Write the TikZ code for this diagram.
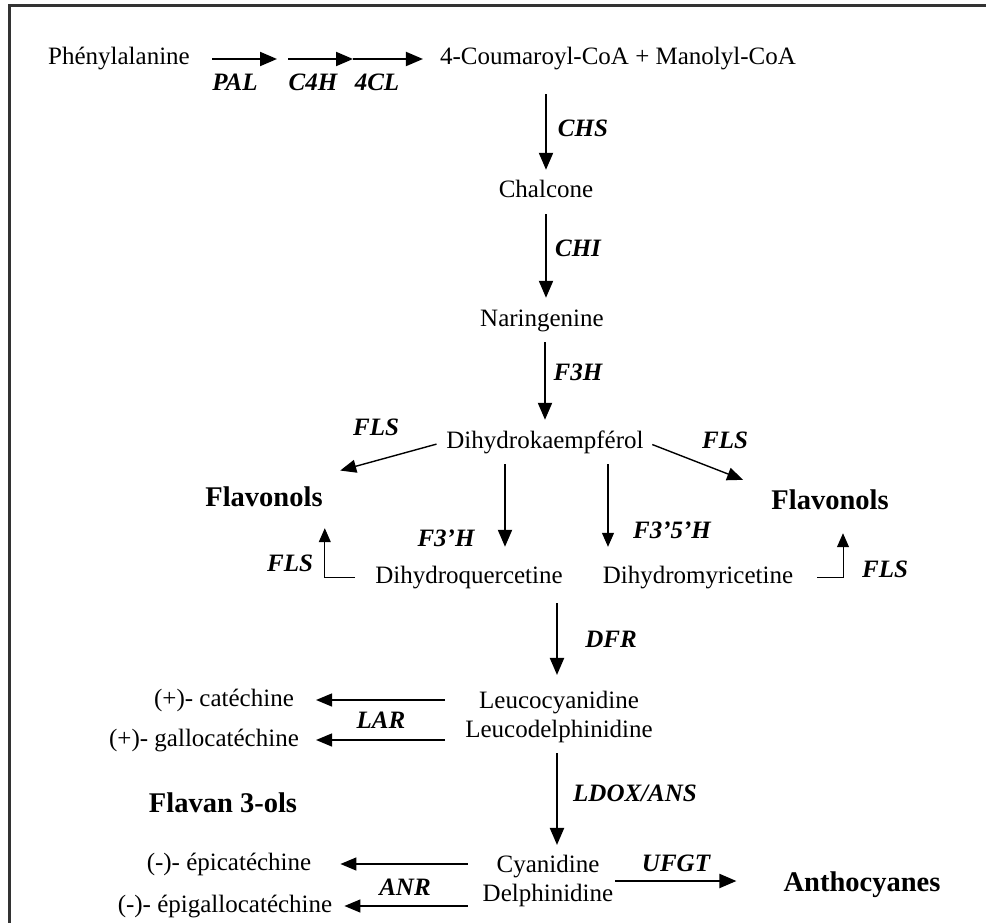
\documentclass[tikz,border=0pt]{standalone}
\usepackage{fontspec}
\setmainfont{Liberation Serif}
\usetikzlibrary{arrows.meta}
\usetikzlibrary{positioning}

\begin{document}
\begin{tikzpicture}[x=1pt, y=-1pt,
  cpd/.style={font=\fontsize{25}{29}\selectfont, inner xsep=2pt, inner ysep=10pt, text height=18pt, text depth=6pt},
  cpdd/.style={font=\fontsize{25}{29}\selectfont, align=center, inner xsep=2pt, inner ysep=10pt},
  grp/.style={font=\fontsize{28.5}{33}\selectfont\bfseries, inner xsep=2pt, inner ysep=12pt},
  enz/.style={font=\fontsize{25}{29}\selectfont\bfseries\itshape, inner sep=0pt},
  big/.style={line width=2pt, -{Triangle[length=17pt, width=14pt]}},
  med/.style={line width=1.4pt, -{Triangle[length=16pt, width=13pt]}},
  thin/.style={line width=1pt, -{Triangle[length=14pt, width=12pt]}}]
  \useasboundingbox (0,0) rectangle (986,923);
  \draw[line width=3pt, black!80] (9,923) -- (9,5.5) -- (986,5.5);

  \node[cpd] (phe)  at (119,59)  {Phénylalanine};
  \node[cpd] (coum) at (618,59)  {4-Coumaroyl-CoA + Manolyl-CoA};
  \node[cpd] (chal) at (546,192) {Chalcone};
  \node[cpd] (nar)  at (542,320) {Naringenine};
  \node[cpd] (dhk)  at (545,442) {Dihydrokaempférol};
  \node[grp] (flvL) at (264,497) {Flavonols};
  \node[grp] (flvR) at (830,500) {Flavonols};
  \node[cpd] (dhq)  at (469,577) {Dihydroquercetine};
  \node[cpd] (dhm)  at (698,577) {Dihydromyricetine};
  \node[cpdd] (leuco) at (559,717) {Leucocyanidine\\Leucodelphinidine};
  \node[cpd] (cat)  at (224,700) {(+)- catéchine};
  \node[cpd] (gcat) at (204,740) {(+)- gallocatéchine};
  \node[grp] (flavan) at (223,803) {Flavan 3-ols};
  \node[cpdd] (cyan) at (548,881) {Cyanidine\\Delphinidine};
  \node[grp] (antho) at (862,885) {Anthocyanes};
  \node[cpd] (epi)  at (229,864) {(-)- épicatéchine};
  \node[cpd] (egc)  at (225,906) {(-)- épigallocatéchine};

  \node[enz] (pal)  at (235,82)  {PAL};
  \node[enz] (c4h)  at (313,82)  {C4H};
  \node[enz] (fcl)  at (377,82)  {4CL};
  \node[enz] (chs)  at (583,128) {CHS};
  \node[enz] (chi)  at (578,248) {CHI};
  \node[enz] (f3h)  at (578,372) {F3H};
  \node[enz] (flsA) at (376,427) {FLS};
  \node[enz] (flsB) at (725,440) {FLS};
  \node[enz] (f3h1) at (446,538) {F3’H};
  \node[enz] (f3h2) at (672,530) {F3’5’H};
  \node[enz] (flsC) at (290,563) {FLS};
  \node[enz] (flsD) at (885,569) {FLS};
  \node[enz] (dfr)  at (611,639) {DFR};
  \node[enz] (lar)  at (381,720) {LAR};
  \node[enz] (ldox) at (635,793) {LDOX/ANS};
  \node[enz] (ufgt) at (676,863) {UFGT};
  \node[enz] (anr)  at (405,887) {ANR};

  \coordinate (j1) at (277,59);
  \coordinate (j2) at (288,59);
  \coordinate (j3) at (353,59);

  \draw[big, shorten <=20pt] (phe) -- (j1);
  \draw[big] (j2) -- (j3);
  \draw[big, shorten >=15pt] (j3) -- (coum);
  \draw[big, shorten <=13pt] (coum.south -| chal) -- (chal);
  \draw[big] (chal.south) -- (chal.south |- nar.north);
  \draw[big] (nar.south -| dhk) -- (dhk);
  \draw[med, shorten <=8pt, shorten >=16pt] (dhk.west) -- (flvL.north east);
  \draw[med, shorten <=7pt, shorten >=28pt] (dhk.east) -- ([yshift=10pt]flvR.west);
  \draw[big, shorten >=8pt] ([xshift=-40pt]dhk.south) -- ([xshift=-40pt]dhk.south |- dhq.north);
  \draw[thin, line width=1.2pt, shorten >=8pt] ([xshift=63pt]dhk.south) -- ([xshift=63pt]dhk.south |- dhm.north);
  \draw[thin, shorten <=18pt, shorten >=9pt] (dhq.west) -| (flvL.south east);
  \draw[thin, shorten <=22pt, shorten >=11pt] (dhm.east) -| ([xshift=13pt]flvR.south);
  \draw[big, shorten <=4pt, shorten >=6pt] ([xshift=-2pt]dhq.south -| leuco) -- ([xshift=-2pt]leuco.north);
  \draw[big] ([xshift=-2pt]leuco.south) -- ([xshift=-2pt]leuco.south |- cyan.north);
  \draw[big, shorten >=45pt] (cyan.east) -- (cyan.east -| antho.west);
  \draw[med, shorten <=18pt, shorten >=20pt] (leuco.west |- cat) -- (cat);
  \draw[med, shorten <=18pt, shorten >=15pt] (leuco.west |- gcat) -- (gcat);
  \draw[med, shorten <=13pt, shorten >=27pt] (cyan.west |- epi) -- (epi);
  \draw[med, shorten <=13pt, shorten >=10pt] (cyan.west |- egc) -- (egc);
\end{tikzpicture}
\end{document}
